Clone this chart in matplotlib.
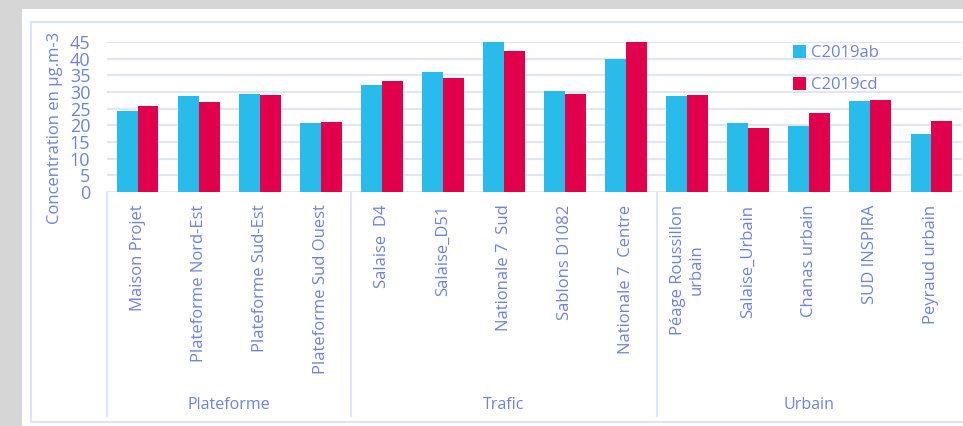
import matplotlib
matplotlib.use('Agg')
import matplotlib.pyplot as plt
from matplotlib.patches import Rectangle
import matplotlib.transforms as mtransforms
import numpy as np

plt.rcParams['font.family'] = ['Open Sans', 'DejaVu Sans']

# donnees
sites = ['Maison Projet', 'Plateforme Nord-Est', 'Plateforme Sud-Est', 'Plateforme Sud Ouest',
         'Salaise  D4', 'Salaise_D51', 'Nationale 7  Sud', 'Sablons D1082', 'Nationale 7  Centre',
         'Péage Roussillon\nurbain', 'Salaise_Urbain', 'Chanas urbain', 'SUD INSPIRA', 'Peyraud urbain']
groupes = ['Plateforme', 'Trafic', 'Urbain']
taille_groupes = [4, 5, 5]
c2019ab = [24.4, 28.7, 29.5, 20.8, 32.2, 35.9, 44.9, 30.4, 40.0, 28.8, 20.6, 19.9, 27.4, 17.3]
c2019cd = [25.7, 27.0, 29.2, 20.9, 33.4, 34.2, 42.2, 29.5, 45.2, 29.2, 19.1, 23.8, 27.7, 21.4]

bleu = '#29bbe9'
rouge = '#e0004b'
texte = '#6e82da'
grille = '#e1e6f7'

W, H = 963, 426
fig = plt.figure(figsize=(W / 100, H / 100), dpi=100)
fig.patch.set_facecolor('white')

# bordure grise + cadre
fig.patches.append(Rectangle((0, (H - 9) / H), 1, 9 / H, transform=fig.transFigure,
                             facecolor='#d6d6d6', edgecolor='none', zorder=0))
fig.patches.append(Rectangle((0, 0), 22 / W, 1, transform=fig.transFigure,
                             facecolor='#d6d6d6', edgecolor='none', zorder=0))
fig.patches.append(Rectangle((31 / W, 4 / H), (W - 31 + 5) / W, (404 - 4) / H, transform=fig.transFigure,
                             facecolor='none', edgecolor='#dde3f6', linewidth=1.5, zorder=0))

x0, x1, y0, y1 = 107, 962, 192, 42
ax = fig.add_axes([x0 / W, (H - y0) / H, (x1 - x0) / W, (y0 - y1) / H])
ax.set_facecolor('none')

x = np.arange(len(sites))
w = 0.343
ax.bar(x - w / 2, c2019ab, w, color=bleu, label='C2019ab', zorder=3)
ax.bar(x + w / 2, c2019cd, w, color=rouge, label='C2019cd', zorder=3)

ax.set_xlim(-0.5, len(sites) - 0.5)
ax.set_ylim(0, 45)
ax.set_yticks(range(0, 46, 5))
ax.yaxis.grid(True, color=grille, linewidth=1.5)
ax.set_axisbelow(True)
for s in ax.spines.values():
    s.set_visible(False)

ax.set_xticks(x)
ax.set_xticklabels(sites, rotation=90, va='top', ha='center', fontsize=12, color=texte)
ax.tick_params(axis='x', length=0, pad=9)
ax.tick_params(axis='y', length=0, pad=12, labelsize=13, labelcolor=texte)

# separateurs et noms des groupes
trans = mtransforms.blended_transform_factory(ax.transData, ax.transAxes)
bornes = np.concatenate([[0], np.cumsum(taille_groupes)]) - 0.5
for b in bornes[:-1]:
    ax.plot([b, b], [0, (y0 - 416) / (y0 - y1)], transform=trans, color=grille,
            linewidth=1.5, clip_on=False)
for g, a, b in zip(groupes, bornes[:-1], bornes[1:]):
    ax.text((a + b) / 2, (y0 - 405) / (y0 - y1), g, transform=trans, ha='center', va='center',
            fontsize=11.5, color=texte)

fig.text(55 / W, (H - 128) / H, 'Concentration en µg.m-3', rotation=90, ha='center', va='center',
         fontsize=12, color=texte)

leg = ax.legend(loc='upper left', bbox_to_anchor=(793 / W, (H - 45) / H), bbox_transform=fig.transFigure,
                frameon=False, fontsize=12, handlelength=0.8, handleheight=0.8, handletextpad=0.3,
                labelspacing=0.95, borderpad=0, borderaxespad=0)
for t in leg.get_texts():
    t.set_color(texte)

plt.savefig('out.png', dpi=100)
plt.close()
